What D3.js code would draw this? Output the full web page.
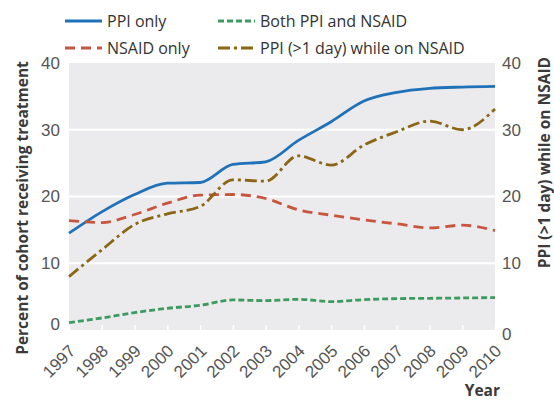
<!DOCTYPE html>
<html>
<head>
<meta charset="utf-8">
<script src="https://cdn.jsdelivr.net/npm/d3@7"></script>
<style>
  body { margin: 0; background: #fff; }
  svg { display: block; font-family: "Open Sans", "Noto Sans", sans-serif; }
</style>
</head>
<body>
<div id="chart"></div>
<script>
// Data
const years = [1997, 1998, 1999, 2000, 2001, 2002, 2003, 2004, 2005, 2006, 2007, 2008, 2009, 2010];
const ppiOnly = [14.5, 17.7, 20.3, 22.0, 22.1, 24.8, 25.2, 28.4, 31.2, 34.3, 35.6, 36.2, 36.4, 36.5];
const nsaidOnly = [16.4, 16.1, 17.3, 19.0, 20.2, 20.3, 19.7, 18.0, 17.2, 16.5, 15.9, 15.3, 15.7, 14.9];
const bothPpiNsaid = [1.1, 1.8, 2.6, 3.25, 3.7, 4.5, 4.4, 4.6, 4.25, 4.55, 4.7, 4.75, 4.8, 4.85];
const ppiWhileNsaid = [8.0, 12.0, 15.8, 17.4, 18.5, 22.5, 22.3, 26.1, 24.7, 27.7, 29.7, 31.3, 30.0, 33.1];
const yTicks = [0, 10, 20, 30, 40];

const series = [
  { name: "PPI only", values: ppiOnly, color: "#1f72b8", dash: null },
  { name: "NSAID only", values: nsaidOnly, color: "#c9553f", dash: "10,6" },
  { name: "Both PPI and NSAID", values: bothPpiNsaid, color: "#3e9a60", dash: "6,3" },
  { name: "PPI (>1 day) while on NSAID", values: ppiWhileNsaid, color: "#8b6614", dash: "12,4,3,4" }
];

const W = 554, H = 400;
const margin = { top: 63, right: 59, bottom: 70, left: 69 };
const width = W - margin.left - margin.right;
const height = H - margin.top - margin.bottom;

const svg = d3.select("#chart").append("svg")
  .attr("width", W)
  .attr("height", H);

const g = svg.append("g")
  .attr("transform", `translate(${margin.left},${margin.top})`);

const x = d3.scaleLinear().domain([1997, 2010]).range([0, width]);
const y = d3.scaleLinear().domain([0, 40]).range([height, 0]);

// plot background
g.append("rect")
  .attr("width", width)
  .attr("height", height)
  .attr("fill", "#ebebed");

// gridlines
g.selectAll(".grid")
  .data(yTicks.filter(d => d > 0 && d < 40))
  .enter().append("line")
  .attr("x1", 0).attr("x2", width)
  .attr("y1", d => y(d)).attr("y2", d => y(d))
  .attr("stroke", "#fff")
  .attr("stroke-width", 2);

// x axis with white ticks pointing up into the plot
const xAxis = g.append("g")
  .attr("transform", `translate(0,${height})`)
  .call(d3.axisBottom(x).tickValues(years).tickFormat(d3.format("d")).tickSizeInner(-5).tickSizeOuter(0).tickPadding(0));
xAxis.select(".domain").remove();
xAxis.selectAll(".tick line").attr("stroke", "#fff").attr("stroke-width", 1.5);
xAxis.selectAll(".tick text")
  .attr("fill", "#555")
  .attr("font-size", 17)
  .attr("text-anchor", "end")
  .attr("y", 0)
  .attr("dy", 0)
  .attr("transform", "translate(7,22) rotate(-45)");

// left y axis
const yLeft = g.append("g")
  .call(d3.axisLeft(y).tickValues(yTicks).tickSize(0).tickPadding(9));
yLeft.select(".domain").remove();
yLeft.selectAll(".tick text")
  .attr("fill", "#555")
  .attr("font-size", 17)
  .attr("dy", d => d === 0 ? "-0.05em" : "0.32em");

// right y axis
const yRight = g.append("g")
  .attr("transform", `translate(${width},0)`)
  .call(d3.axisRight(y).tickValues(yTicks).tickSize(0).tickPadding(7));
yRight.select(".domain").remove();
yRight.selectAll(".tick text")
  .attr("fill", "#555")
  .attr("font-size", 17)
  .attr("dy", d => d === 0 ? "0.55em" : "0.32em");

// lines
const line = d3.line()
  .x((d, i) => x(years[i]))
  .y(d => y(d))
  .curve(d3.curveMonotoneX);

g.selectAll(".series")
  .data(series)
  .enter().append("path")
  .attr("d", d => line(d.values))
  .attr("fill", "none")
  .attr("stroke", d => d.color)
  .attr("stroke-width", 2.8)
  .attr("stroke-dasharray", d => d.dash)
  .attr("stroke-linejoin", "round");

// axis titles
svg.append("text")
  .attr("transform", `translate(28,208) rotate(-90)`)
  .attr("text-anchor", "middle")
  .attr("font-size", 15.5)
  .attr("font-weight", "bold")
  .attr("fill", "#3a3a3a")
  .text("Percent of cohort receiving treatment");

svg.append("text")
  .attr("transform", `translate(550,57) rotate(-90)`)
  .attr("text-anchor", "end")
  .attr("font-size", 15.5)
  .attr("font-weight", "bold")
  .attr("fill", "#3a3a3a")
  .text("PPI (>1 day) while on NSAID");

svg.append("text")
  .attr("x", 500)
  .attr("y", 396)
  .attr("text-anchor", "end")
  .attr("font-size", 15.5)
  .attr("font-weight", "bold")
  .attr("fill", "#3a3a3a")
  .text("Year");

// legend
const legendOrder = [series[0], series[2], series[1], series[3]];
const legend = svg.append("g");
const item = legend.selectAll(".item")
  .data(legendOrder)
  .enter().append("g")
  .attr("transform", (d, i) => `translate(${i % 2 === 0 ? 65 : 218},${i < 2 ? 21 : 48})`);
item.append("line")
  .attr("x1", 0).attr("x2", 37)
  .attr("stroke", d => d.color)
  .attr("stroke-width", 2.8)
  .attr("stroke-dasharray", d => d.dash);
item.append("text")
  .attr("x", 42)
  .attr("y", 6)
  .attr("font-size", 16)
  .attr("fill", "#333")
  .text(d => d.name);
</script>
</body>
</html>
